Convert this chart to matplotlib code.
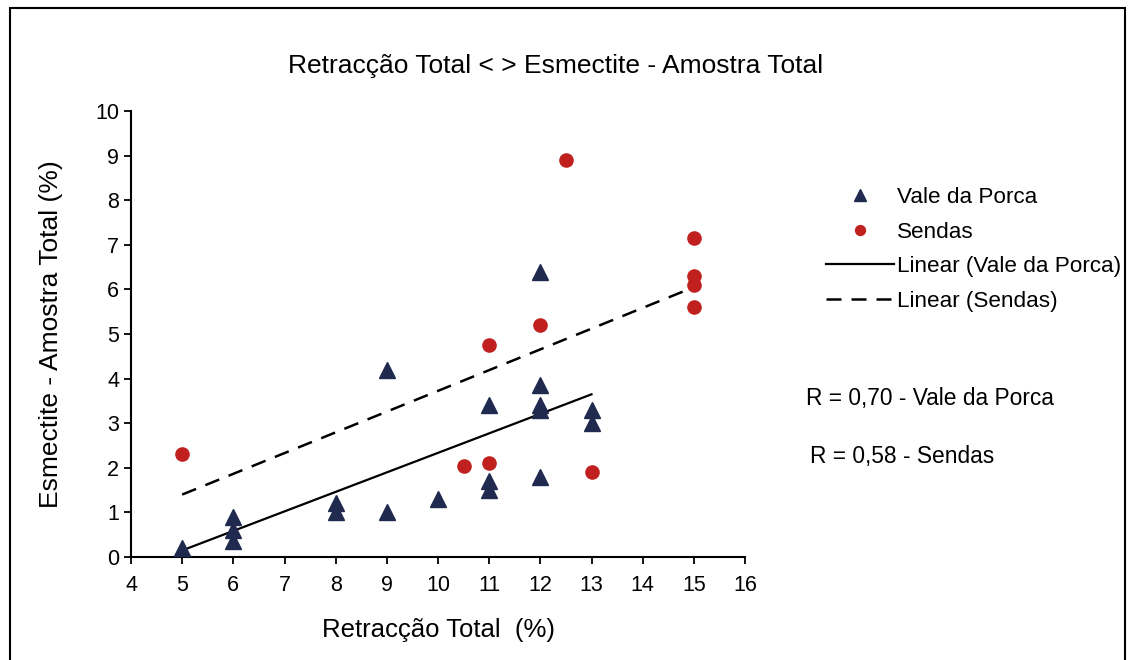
import matplotlib.pyplot as plt
import numpy as np
from matplotlib.patches import Rectangle

plt.rcParams['font.family'] = ['Liberation Sans', 'DejaVu Sans']

# Vale da Porca (triangles)
vp_x = [5, 6, 6, 6, 8, 8, 9, 9, 10, 11, 11, 11, 12, 12, 12, 12, 12, 13, 13]
vp_y = [0.2, 0.9, 0.6, 0.35, 1.2, 1.0, 4.2, 1.0, 1.3, 3.4, 1.7, 1.5,
        6.4, 3.85, 3.4, 3.3, 1.8, 3.3, 3.0]

# Sendas (circles)
se_x = [5, 10.5, 11, 11, 12, 12.5, 13, 15, 15, 15, 15]
se_y = [2.3, 2.05, 2.1, 4.75, 5.2, 8.9, 1.9, 7.15, 6.3, 6.1, 5.6]

# trend lines: slope, intercept, x range
vp_fit = [0.4375, -2.04]
vp_range = [5, 13]
se_fit = [0.465, -0.925]
se_range = [5, 15]

fig = plt.figure(figsize=(11.29, 6.6), dpi=100)
ax = fig.add_axes([131/1129, 1-557/660, (745-131)/1129, (557-111)/660])

ax.plot(vp_x, vp_y, '^', color='#1f2a4e', markersize=11, linestyle='none',
        label='Vale da Porca', zorder=3)
ax.plot(se_x, se_y, 'o', color='#c0211f', markersize=9.5, linestyle='none',
        label='Sendas', zorder=3)

xx = np.array(vp_range)
ax.plot(xx, vp_fit[0]*xx + vp_fit[1], '-', color='black', linewidth=1.6,
        label='Linear (Vale da Porca)')
xx = np.array(se_range)
ax.plot(xx, se_fit[0]*xx + se_fit[1], '--', color='black', linewidth=1.8,
        dashes=(6, 4), label='Linear (Sendas)')

ax.set_xlim(4, 16)
ax.set_ylim(0, 10)
ax.set_xticks(range(4, 17))
ax.set_yticks(range(0, 11))
ax.spines['top'].set_visible(False)
ax.spines['right'].set_visible(False)
ax.spines['left'].set_linewidth(1.5)
ax.spines['bottom'].set_linewidth(1.5)
ax.tick_params(labelsize=15.5, width=1.3, length=5, direction='out')
ax.tick_params(axis='x', pad=8)

ax.set_xlabel('Retracção Total  (%)', fontsize=18.5, labelpad=16)
ax.set_ylabel('Esmectite - Amostra Total (%)', fontsize=19)
ax.yaxis.set_label_coords(-0.11, 0.5)
fig.text(556/1129, 1-66/660, 'Retracção Total < > Esmectite - Amostra Total',
         fontsize=19, ha='center', va='center')

leg = ax.legend(loc='upper left', bbox_to_anchor=(806/1129, 1-167/660),
                bbox_transform=fig.transFigure, frameon=False, fontsize=16.2,
                handlelength=3.0, handletextpad=0.15, labelspacing=0.6,
                markerscale=0.75)

fig.text(806/1129, 1-398/660, 'R = 0,70 - Vale da Porca', fontsize=16.4, va='center')
fig.text(810/1129, 1-456/660, 'R = 0,58 - Sendas', fontsize=16.4, va='center')

fig.patches.append(Rectangle((10/1129, -0.01), 1115/1129, 1-8/660 + 0.01,
                             transform=fig.transFigure, fill=False,
                             edgecolor='black', linewidth=1.5))

fig.savefig('out.png', dpi=100)
